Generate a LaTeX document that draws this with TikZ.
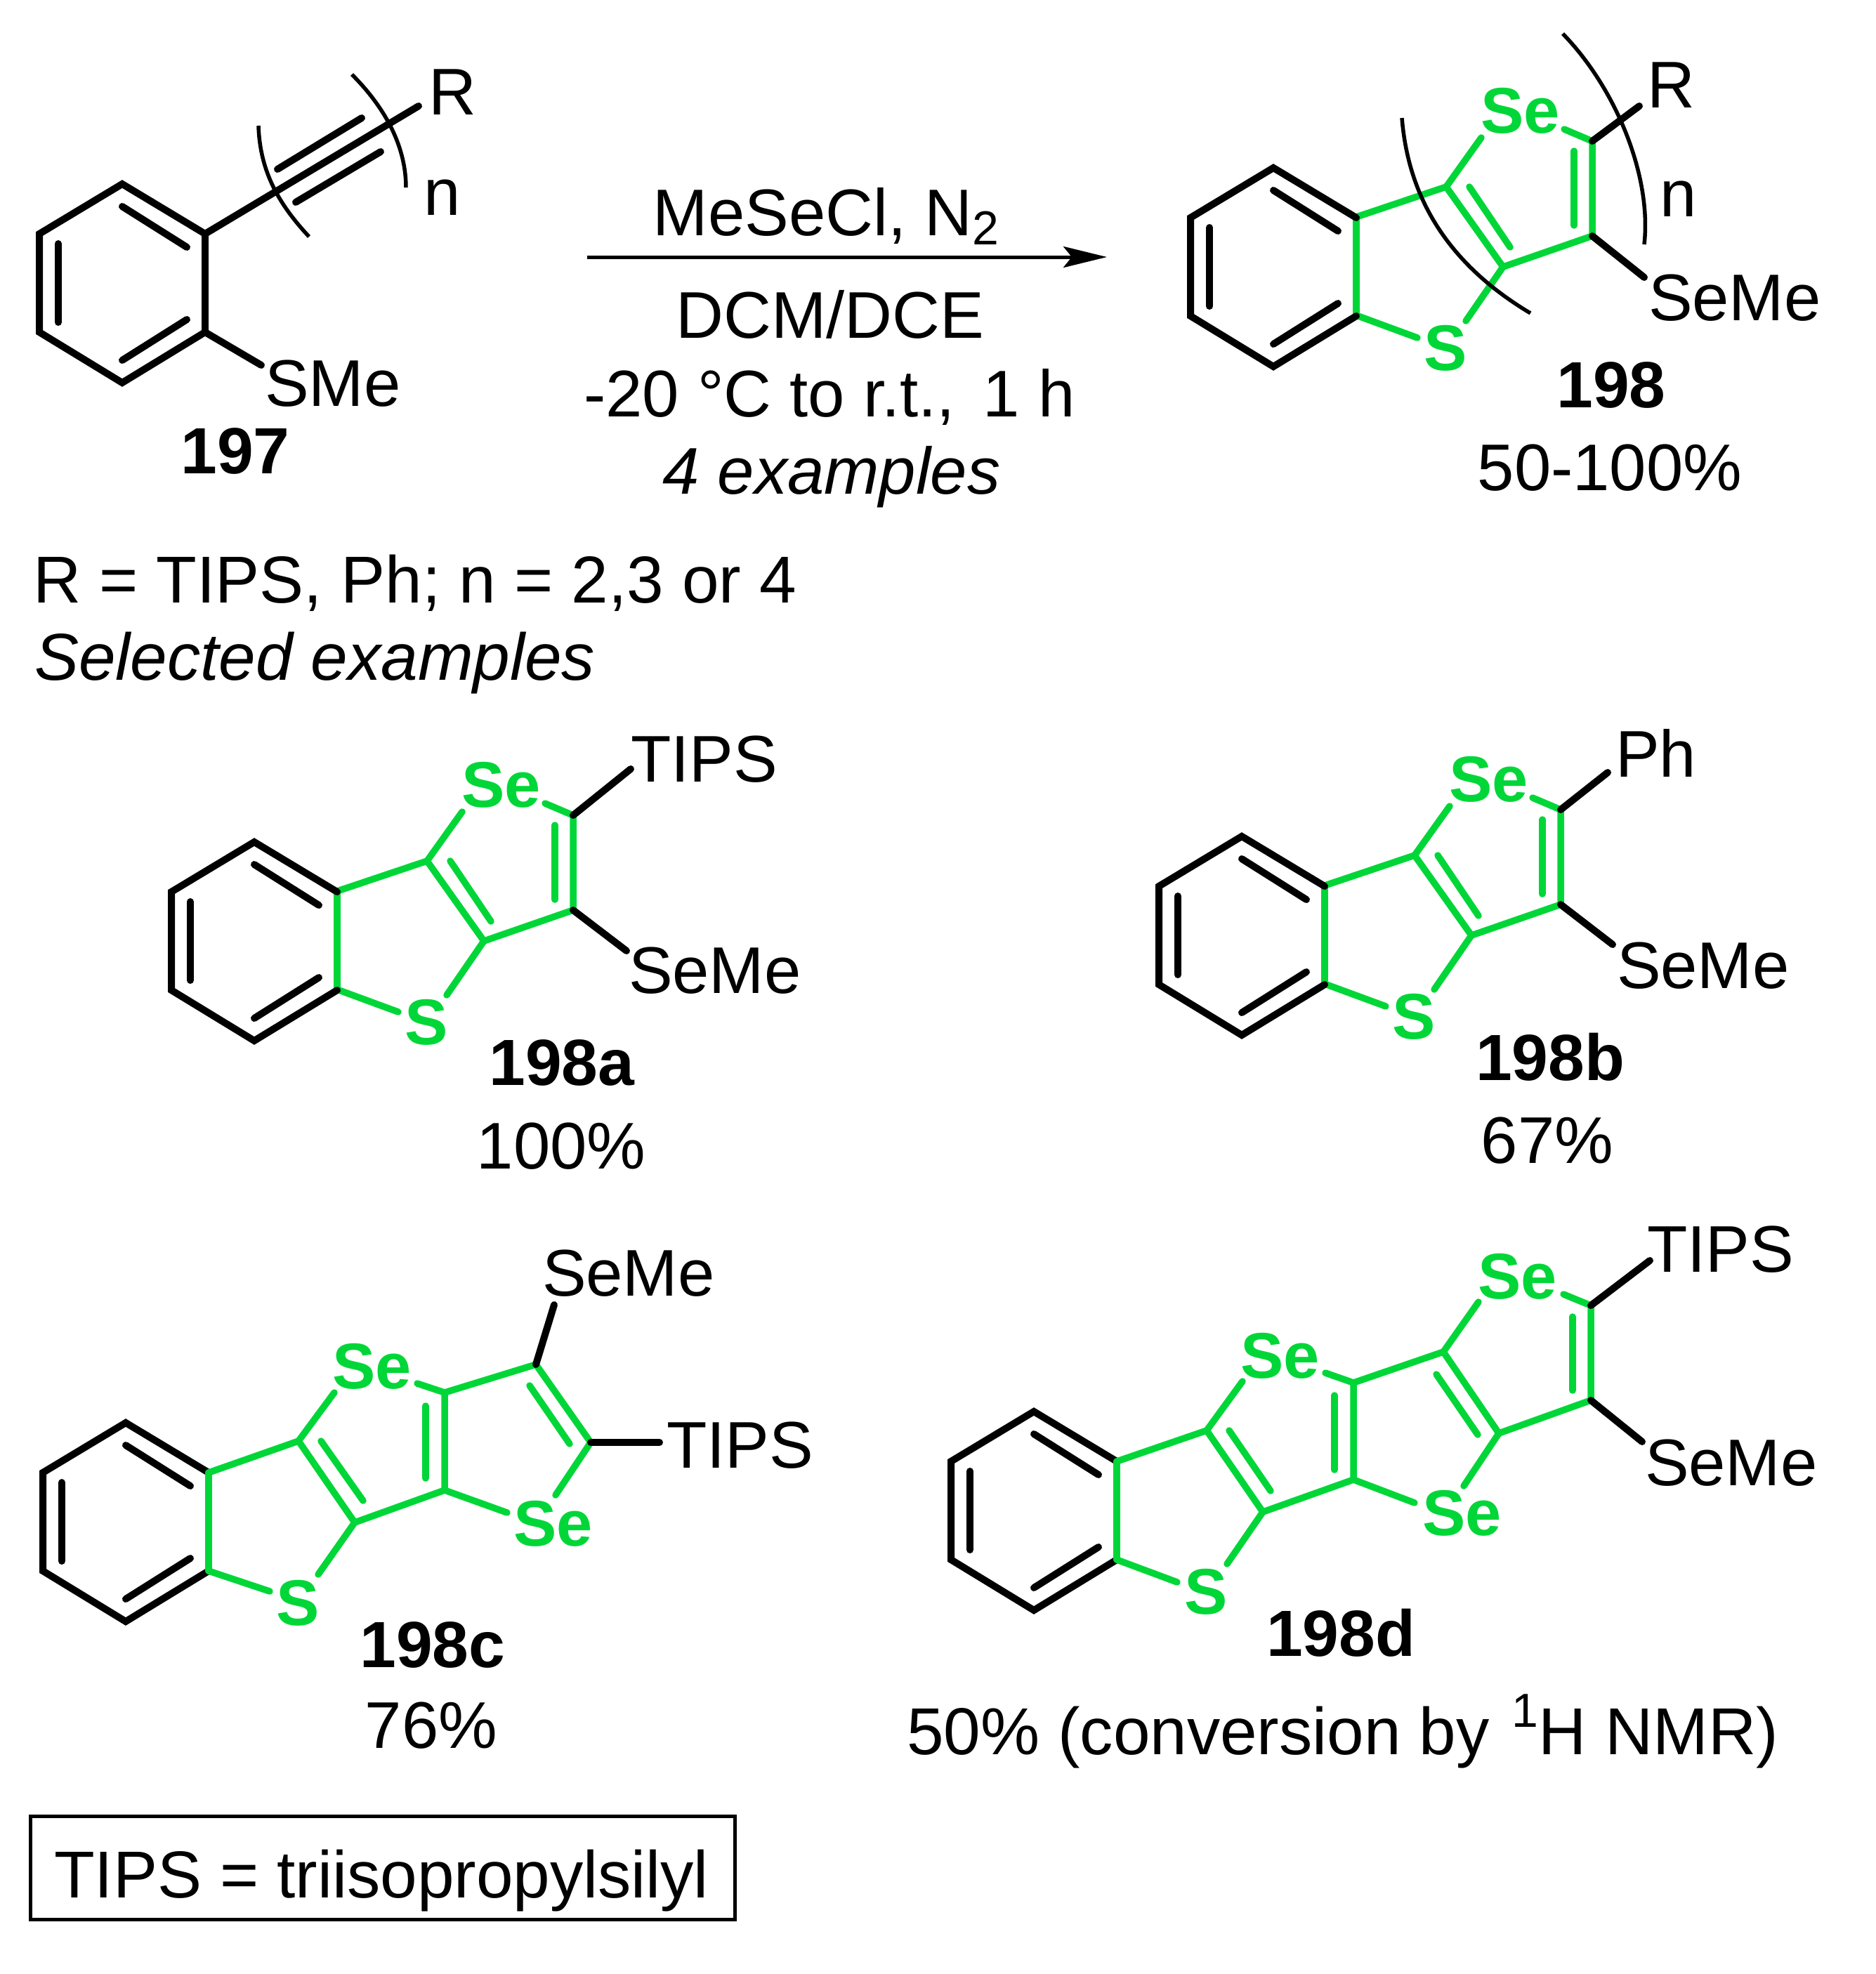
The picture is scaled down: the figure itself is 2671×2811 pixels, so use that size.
\documentclass[tikz,border=0pt]{standalone}
\usepackage{fontspec}
\setmainfont{Liberation Sans}
\usetikzlibrary{arrows.meta}
\definecolor{selgreen}{RGB}{0,214,55}
\tikzset{
  blk/.style={line width=10pt,line cap=round,line join=miter,draw=black},
  grn/.style={line width=9.5pt,line cap=round,line join=round,draw=selgreen},
  brk/.style={line width=5.5pt,draw=black},
  lab/.style={font=\fontsize{94}{110}\selectfont,inner sep=0pt,outer sep=0pt,anchor=base west,text=black},
  labc/.style={lab,anchor=base},
  num/.style={font=\fontsize{93}{110}\selectfont\bfseries,inner sep=0pt,outer sep=0pt,anchor=base,text=black},
  het/.style={font=\fontsize{92}{110}\selectfont\bfseries,inner sep=0pt,outer sep=0pt,anchor=base west,text=selgreen},
}
% benzene ring: prefix, x of top vertex, y of top vertex
\newcommand{\benzring}[3]{%
  \begin{scope}[shift={(#2,#3)},name prefix=#1-]
    \coordinate (t) at (0,0);
    \coordinate (ur) at (118,71);
    \coordinate (lr) at (118,211);
    \coordinate (b) at (0,283);
    \coordinate (ll) at (-118,211);
    \coordinate (ul) at (-118,71);
    \coordinate (i1) at (0,32);
    \coordinate (i2) at (92,90);
    \coordinate (i3) at (92,193);
    \coordinate (i4) at (0,251);
    \coordinate (i5) at (-91,85);
    \coordinate (i6) at (-91,197);
    \draw[blk] (ur) -- (t) -- (ul) -- (ll) -- (b) -- (lr);
    \draw[blk] (i1) -- (i2);
    \draw[blk] (i3) -- (i4);
    \draw[blk] (i5) -- (i6);
  \end{scope}}
% benzothieno-selenophene core, drawn in the coordinates of 198 and shifted
\newcommand{\coreunit}[3]{%
  \begin{scope}[shift={(#2,#3)},name prefix=#1-]
    \coordinate (gur) at (1931,309);
    \coordinate (glr) at (1931,449);
    \coordinate (ca) at (2059,266);
    \coordinate (cb) at (2140,380);
    \coordinate (cc) at (2267,201);
    \coordinate (cd) at (2267,336);
    \coordinate (sea) at (2109,196);
    \coordinate (seb) at (2227,184);
    \coordinate (sa) at (2087,457);
    \coordinate (sb) at (2018,481);
    \coordinate (ia) at (2092,266);
    \coordinate (ib) at (2150,352);
    \coordinate (ic) at (2241,215);
    \coordinate (id) at (2241,321);
    \node[het] (se) at (2108,189) {Se};
    \node[het] (s) at (2027,527) {S};
    \draw[grn] (gur) -- (glr);
    \draw[grn] (gur) -- (ca) -- (sea);
    \draw[grn] (ca) -- (cb) -- (cd) -- (cc) -- (seb);
    \draw[grn] (cb) -- (sa);
    \draw[grn] (glr) -- (sb);
    \draw[grn] (ia) -- (ib);
    \draw[grn] (ic) -- (id);
  \end{scope}}
\begin{document}
\begin{tikzpicture}[x=1pt,y=-1pt]
\useasboundingbox (0,0) rectangle (2671,2811);
% ---------- 197
\benzring{p}{174}{262}
\draw[blk] (p-ur) -- (p-lr);
\node[lab] (r197) at (610,163) {R};
\node[lab] (sme197) at (377,578) {SMe};
\node[lab] (n197) at (603,306) {n};
\node[num] (lab197) at (335,674) {197};
\coordinate (r197end) at (596,151);
\coordinate (sme197end) at (372,520);
\coordinate (tA1) at (395,241);
\coordinate (tA2) at (515,168);
\coordinate (tB1) at (421,288);
\coordinate (tB2) at (542,216);
\draw[blk] (p-ur) -- (r197end);
\draw[blk] (p-lr) -- (sme197end);
\draw[blk] (tA1) -- (tA2);
\draw[blk] (tB1) -- (tB2);
\coordinate (bl1) at (368,179);
\coordinate (bl2) at (440,337);
\coordinate (br1) at (501,106);
\coordinate (br2) at (578,267);
\draw[brk] (bl1) .. controls (370,245) and (398,292) .. (bl2);
\draw[brk] (br1) .. controls (545,150) and (578,205) .. (br2);
% ---------- conditions
\coordinate (arA) at (836,366);
\coordinate (arB) at (1576,366);
\draw[line width=5pt,-{Stealth[length=62pt,width=30pt,inset=12pt]}] (arA) -- (arB);
\node[labc] (cond1) at (1176,335) {MeSeCl, N\raisebox{-13pt}{\fontsize{68}{70}\selectfont 2}};
\node[labc] (cond2) at (1182,481) {DCM/DCE};
\node[labc] (cond3) at (1181,593) {-20 °C to r.t.,\hspace{40pt}1 h};
\node[labc] (cond4) at (1184,703) {\itshape 4 examples};
\node[lab,font=\fontsize{94.5}{110}\selectfont] (rdef) at (47,858) {R = TIPS, Ph; n = 2,3 or 4};
\node[lab,font=\fontsize{94.5}{110}\selectfont] (selex) at (49,968) {\itshape Selected examples};
% ---------- 198
\coreunit{m}{0}{0}
\benzring{m}{1813}{239}
\coordinate (r198end) at (2334,151);
\coordinate (sem198end) at (2341,395);
\draw[blk] (m-cc) -- (r198end);
\draw[blk] (m-cd) -- (sem198end);
\node[lab] (r198) at (2345,153) {R};
\node[lab] (sem198) at (2347,456) {SeMe};
\node[lab] (n198) at (2363,308) {n};
\node[num] (lab198) at (2294,580) {198};
\node[labc] (y198) at (2292,698) {50-100\%};
\coordinate (bm1) at (1996,168);
\coordinate (bm2) at (2179,446);
\coordinate (bm3) at (2225,48);
\coordinate (bm4) at (2341,348);
\draw[brk] (bm1) .. controls (2005,280) and (2060,375) .. (bm2);
\draw[brk] (bm3) .. controls (2300,125) and (2352,250) .. (bm4);
% ---------- 198a
\coreunit{a}{-1451}{960}
\benzring{a}{362}{1199}
\coordinate (r198a) at (898,1095);
\coordinate (s198a) at (892,1354);
\draw[blk] (a-cc) -- (r198a);
\draw[blk] (a-cd) -- (s198a);
\node[lab] (tips198a) at (898,1113) {TIPS};
\node[lab] (sem198a) at (895,1414) {SeMe};
\node[num] (lab198a) at (800,1545) {198a};
\node[labc] (y198a) at (799,1664) {100\%};
% ---------- 198b
\coreunit{bb}{-45}{952}
\benzring{bb}{1768}{1191}
\coordinate (r198b) at (2289,1100);
\coordinate (s198b) at (2296,1345);
\draw[blk] (bb-cc) -- (r198b);
\draw[blk] (bb-cd) -- (s198b);
\node[lab] (ph198b) at (2300,1106) {Ph};
\node[lab] (sem198b) at (2302,1407) {SeMe};
\node[num] (lab198b) at (2207,1538) {198b};
\node[labc] (y198b) at (2203,1656) {67\%};
% ---------- 198c
\benzring{c}{179}{2026}
\coordinate (ca) at (425,2052);
\coordinate (cb) at (505,2168);
\coordinate (cia) at (457,2052);
\coordinate (cib) at (517,2137);
\coordinate (cc) at (633,1983);
\coordinate (cd) at (633,2122);
\coordinate (cic) at (606,2002);
\coordinate (cid) at (606,2105);
\coordinate (ce) at (763,1943);
\coordinate (cf) at (841,2054);
\coordinate (cie) at (754,1973);
\coordinate (cif) at (811,2056);
\coordinate (cs1a) at (476,1983);
\coordinate (cs1b) at (594,1970);
\coordinate (cs2a) at (791,2129);
\coordinate (cs2b) at (722,2154);
\coordinate (csa) at (453,2242);
\coordinate (csb) at (384,2266);
\coordinate (cme) at (789,1858);
\coordinate (ctp) at (939,2054);
\node[het] (cse1) at (473,1977) {Se};
\node[het] (cse2) at (731,2201) {Se};
\node[het] (cs) at (393,2314) {S};
\draw[grn] (c-ur) -- (c-lr);
\draw[grn] (c-ur) -- (ca) -- (cs1a);
\draw[grn] (ca) -- (cb) -- (cd) -- (cs2b);
\draw[grn] (cb) -- (csa);
\draw[grn] (c-lr) -- (csb);
\draw[grn] (cs1b) -- (cc) -- (cd);
\draw[grn] (cc) -- (ce) -- (cf) -- (cs2a);
\draw[grn] (cia) -- (cib);
\draw[grn] (cic) -- (cid);
\draw[grn] (cie) -- (cif);
\draw[blk] (ce) -- (cme);
\draw[blk] (cf) -- (ctp);
\node[lab] (sem198c) at (772,1845) {SeMe};
\node[lab] (tips198c) at (949,2090) {TIPS};
\node[num] (lab198c) at (616,2374) {198c};
\node[labc] (y198c) at (614,2489) {76\%};
% ---------- 198d
\benzring{d}{1472}{2010}
\coordinate (da) at (1718,2037);
\coordinate (db) at (1798,2153);
\coordinate (dia) at (1750,2037);
\coordinate (dib) at (1809,2123);
\coordinate (dc) at (1927,1969);
\coordinate (dd) at (1927,2107);
\coordinate (dic) at (1900,1987);
\coordinate (did) at (1900,2093);
\coordinate (de) at (2055,1925);
\coordinate (df) at (2134,2041);
\coordinate (die) at (2045,1957);
\coordinate (dif) at (2104,2043);
\coordinate (dg) at (2265,1859);
\coordinate (dh) at (2265,1994);
\coordinate (dig) at (2239,1875);
\coordinate (dih) at (2239,1980);
\coordinate (ds1a) at (1769,1967);
\coordinate (ds1b) at (1887,1955);
\coordinate (ds2a) at (2084,2116);
\coordinate (ds2b) at (2014,2140);
\coordinate (ds3a) at (2105,1854);
\coordinate (ds3b) at (2226,1843);
\coordinate (dsa) at (1747,2227);
\coordinate (dsb) at (1676,2253);
\coordinate (dtp) at (2349,1795);
\coordinate (dme) at (2338,2053);
\node[het] (dse1) at (1766,1962) {Se};
\node[het] (dse2) at (2025,2186) {Se};
\node[het] (dse3) at (2104,1849) {Se};
\node[het] (ds) at (1686,2298) {S};
\draw[grn] (d-ur) -- (d-lr);
\draw[grn] (d-ur) -- (da) -- (ds1a);
\draw[grn] (da) -- (db) -- (dd) -- (ds2b);
\draw[grn] (db) -- (dsa);
\draw[grn] (d-lr) -- (dsb);
\draw[grn] (ds1b) -- (dc) -- (dd);
\draw[grn] (dc) -- (de) -- (df) -- (ds2a);
\draw[grn] (de) -- (ds3a);
\draw[grn] (ds3b) -- (dg) -- (dh) -- (df);
\draw[grn] (dia) -- (dib);
\draw[grn] (dic) -- (did);
\draw[grn] (die) -- (dif);
\draw[grn] (dig) -- (dih);
\draw[blk] (dg) -- (dtp);
\draw[blk] (dh) -- (dme);
\node[lab] (tips198d) at (2345,1811) {TIPS};
\node[lab] (sem198d) at (2342,2115) {SeMe};
\node[num] (lab198d) at (1909,2358) {198d};
\node[lab,font=\fontsize{94.5}{110}\selectfont] (y198d) at (1291,2498) {50\% (conversion by\hspace{32pt}\raisebox{39pt}{\fontsize{68}{70}\selectfont 1}H NMR)};
% ---------- legend
\node[draw=black,line width=5pt,inner sep=0pt,minimum width=1003pt,minimum height=147pt] (legend) at (544.5,2659.5) {};
\node[lab,font=\fontsize{94.5}{110}\selectfont] (legendtext) at (77,2702) {TIPS = triisopropylsilyl};
\end{tikzpicture}
\end{document}
